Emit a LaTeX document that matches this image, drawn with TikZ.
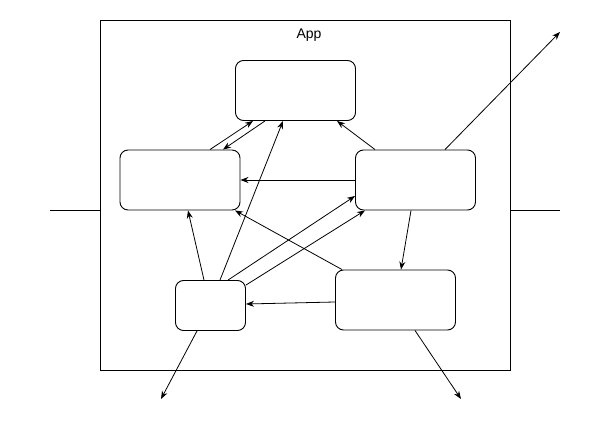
\documentclass[tikz,border=0pt]{standalone}
\usepackage{fontspec}
\setmainfont{Liberation Sans}
\usetikzlibrary{arrows.meta, calc}
\tikzset{
  compbox/.style={draw=black, line width=0.9pt, rounded corners=8pt, inner sep=0pt, minimum width=120pt, minimum height=60pt},
  link/.style={->, line width=0.8pt},
}

\begin{document}
\begin{tikzpicture}[x=1pt, y=-1pt, >={Stealth[length=8pt, width=6pt]}]
    \useasboundingbox (0,0) rectangle (611,431);

    % --- App frame ---
    \node[draw=black, line width=0.9pt, inner sep=0pt, minimum width=410pt, minimum height=350pt] (app) at (305,195) {};
    \node[anchor=base, inner sep=0pt] (apptitle) at (309,38) {\fontsize{14pt}{16pt}\selectfont App};

    % --- Components ---
    \node[compbox] (top) at (295.5,90.5) {};
    \node[compbox] (lft) at (180,180) {};
    \node[compbox] (rgt) at (415.5,180) {};
    \node[compbox, minimum width=70pt, minimum height=50pt] (bl) at (210.5,305.5) {};
    \node[compbox] (br) at (395.5,300) {};

    % --- Outside end points ---
    \coordinate (inL) at (50,210);
    \coordinate (inR) at (560,210);
    \coordinate (outTR) at (560,32);
    \coordinate (outBL) at (161,399);
    \coordinate (outBR) at (461,399);

    % --- Ports through the frame ---
    \draw[line width=0.8pt] (inL) -- ($(app.west)+(0,15)$);
    \draw[line width=0.8pt] ($(app.east)+(0,15)$) -- (inR);

    % --- Links between components ---
    \draw[link] ($(lft.north)+(30,0)$) -- ($(top.south)+(-42.5,0)$);
    \draw[link] ($(top.south)+(-30.5,0)$) -- ($(lft.north)+(43,0)$);
    \draw[link] ($(bl.north)+(9.5,0)$) -- ($(top.south)+(-12.5,0)$);
    \draw[link] ($(rgt.north)+(-40.5,0)$) -- ($(top.south)+(41.5,0)$);
    \draw[link] (rgt.west) -- (lft.east);
    \draw[link] ($(bl.north)+(-6.5,0)$) -- ($(lft.south)+(8,0)$);
    \draw[link] ($(br.north)+(-53.5,0)$) -- ($(lft.south)+(55,0)$);
    \draw[link] ($(bl.north)+(17.5,0)$) -- ($(rgt.west)+(0,16)$);
    \draw[link] ($(bl.north east)+(0,5)$) -- ($(rgt.south)+(-50.5,0)$);
    \draw[link] ($(rgt.south)+(-4.5,0)$) -- ($(br.north)+(5.5,0)$);
    \draw[link] ($(br.west)+(0,2)$) -- ($(bl.east)+(0,-1.5)$);

    % --- Links leaving the app ---
    \draw[link] ($(rgt.north)+(29.5,0)$) -- (outTR);
    \draw[link] ($(bl.south)+(-13.5,0)$) -- (outBL);
    \draw[link] ($(br.south)+(19.5,0)$) -- (outBR);
\end{tikzpicture}
\end{document}
